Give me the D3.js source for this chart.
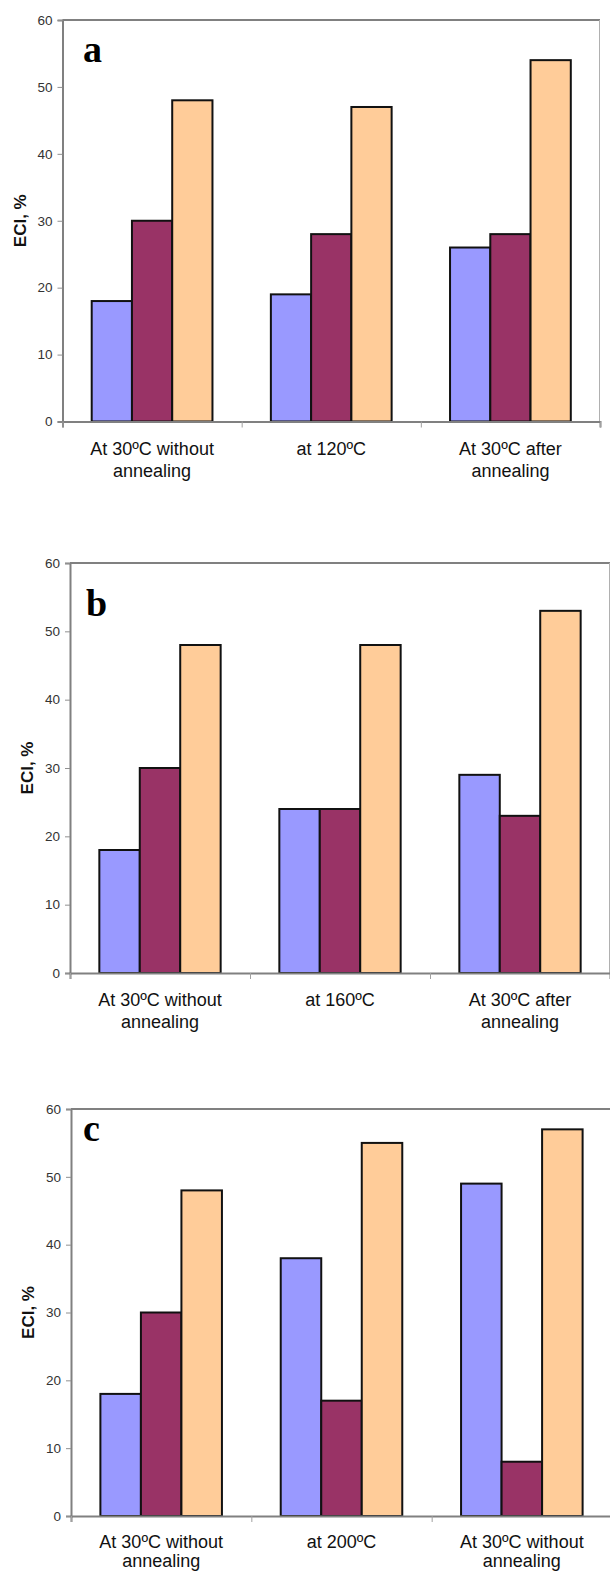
<!DOCTYPE html>
<html>
<head>
<meta charset="utf-8">
<script src="https://cdn.jsdelivr.net/npm/d3@7"></script>
<style>
  body { margin: 0; background: #fff; }
  svg { display: block; }
</style>
</head>
<body>
<svg id="chart"></svg>
<script>
// data
const seriesNames = ["s1", "s2", "s3"]
const seriesColors = ["#9999ff", "#993366", "#ffcc99"]
const yTicks = [0, 10, 20, 30, 40, 50, 60]

const catsA = ["At 30ºC without|annealing", "at 120ºC", "At 30ºC after|annealing"]
const catsB = ["At 30ºC without|annealing", "at 160ºC", "At 30ºC after|annealing"]
const catsC = ["At 30ºC without|annealing", "at 200ºC", "At 30ºC without|annealing"]

const valuesA = [[18, 30, 48], [19, 28, 47], [26, 28, 54]]
const valuesB = [[18, 30, 48], [24, 24, 48], [29, 23, 53]]
const valuesC = [[18, 30, 48], [38, 17, 55], [49, 8, 57]]

// layout of the three panels
const panels = [
    {letter: "a", cats: catsA, values: valuesA, left: 62.5, right: 600, top: 20, bottom: 421.5, letterX: 83, letterY: 62, labelDy: 33, lineH: 22},
    {letter: "b", cats: catsB, values: valuesB, left: 70, right: 610, top: 563, bottom: 973, letterX: 86, letterY: 616, labelDy: 33, lineH: 22},
    {letter: "c", cats: catsC, values: valuesC, left: 71, right: 612, top: 1109, bottom: 1516, letterX: 83, letterY: 1141, labelDy: 32, lineH: 19}
]

const width = 610, height = 1572
const svg = d3.select("#chart").attr("width", width).attr("height", height)

panels.forEach(p => {
    const g = svg.append("g").attr("class", "panel-" + p.letter)

    const y = d3.scaleLinear().domain([0, 60]).range([p.bottom, p.top])
    const x0 = d3.scaleBand()
        .domain(d3.range(p.cats.length))
        .range([p.left, p.right])
        .paddingInner(0.326)
        .paddingOuter(0.163)
    const x1 = d3.scaleBand().domain(seriesNames).range([0, x0.bandwidth()])
    const xEdge = d3.scaleLinear().domain([0, p.cats.length]).range([p.left, p.right])

    // frame: top and right borders
    g.append("line")
        .attr("x1", p.left).attr("x2", p.right)
        .attr("y1", p.top).attr("y2", p.top)
        .attr("stroke", "#808080").attr("stroke-width", 2)
    g.append("line")
        .attr("x1", p.right - 0.5).attr("x2", p.right - 0.5)
        .attr("y1", p.top).attr("y2", p.bottom)
        .attr("stroke", "#b0b0b0").attr("stroke-width", 1)

    // bars
    const groups = g.selectAll("g.group")
        .data(p.values)
        .join("g")
        .attr("class", "group")
        .attr("transform", (d, i) => `translate(${x0(i)},0)`)

    groups.selectAll("rect")
        .data(d => d.map((v, i) => ({key: seriesNames[i], value: v, color: seriesColors[i]})))
        .join("rect")
        .attr("x", d => x1(d.key))
        .attr("width", x1.bandwidth())
        .attr("y", d => y(d.value))
        .attr("height", d => y(0) - y(d.value))
        .attr("fill", d => d.color)
        .attr("stroke", "#111")
        .attr("stroke-width", 2)

    // y axis
    const yAxis = d3.axisLeft(y).tickValues(yTicks).tickSize(5).tickPadding(5)
    const ya = g.append("g").attr("transform", `translate(${p.left},0)`).call(yAxis)
    ya.select(".domain").attr("stroke", "#808080").attr("stroke-width", 2)
    ya.selectAll(".tick line").attr("stroke", "#909090")
    ya.selectAll(".tick text")
        .attr("font-family", "Liberation Sans, Arial, sans-serif")
        .attr("font-size", 13.5)
        .attr("fill", "#333")

    // x axis with ticks at category edges
    const xAxis = d3.axisBottom(xEdge).tickValues(d3.range(p.cats.length + 1)).tickSize(6).tickFormat("")
    const xa = g.append("g").attr("transform", `translate(0,${p.bottom})`).call(xAxis)
    xa.select(".domain").attr("stroke", "#808080").attr("stroke-width", 2)
    xa.selectAll(".tick line").attr("stroke", "#a0a0a0")

    // category labels
    const labels = g.selectAll("text.cat")
        .data(p.cats)
        .join("text")
        .attr("class", "cat")
        .attr("text-anchor", "middle")
        .attr("font-family", "Liberation Sans, Arial, sans-serif")
        .attr("font-size", 18)
        .attr("fill", "#111")
        .attr("transform", (d, i) => `translate(${x0(i) + x0.bandwidth() / 2},${p.bottom + p.labelDy})`)
    labels.selectAll("tspan")
        .data(d => d.split("|"))
        .join("tspan")
        .attr("x", 0)
        .attr("y", (d, i) => i * p.lineH)
        .text(d => d)

    // y axis title
    g.append("text")
        .attr("transform", `translate(${p.left - 37},${(p.top + p.bottom) / 2}) rotate(-90)`)
        .attr("text-anchor", "middle")
        .attr("font-family", "Liberation Sans, Arial, sans-serif")
        .attr("font-weight", "bold")
        .attr("font-size", 17)
        .attr("fill", "#111")
        .text("ECI, %")

    // panel letter
    g.append("text")
        .attr("x", p.letterX)
        .attr("y", p.letterY)
        .attr("font-family", "Liberation Serif, Times New Roman, serif")
        .attr("font-weight", "bold")
        .attr("font-size", 38)
        .attr("fill", "#000")
        .text(p.letter)
})
</script>
</body>
</html>
